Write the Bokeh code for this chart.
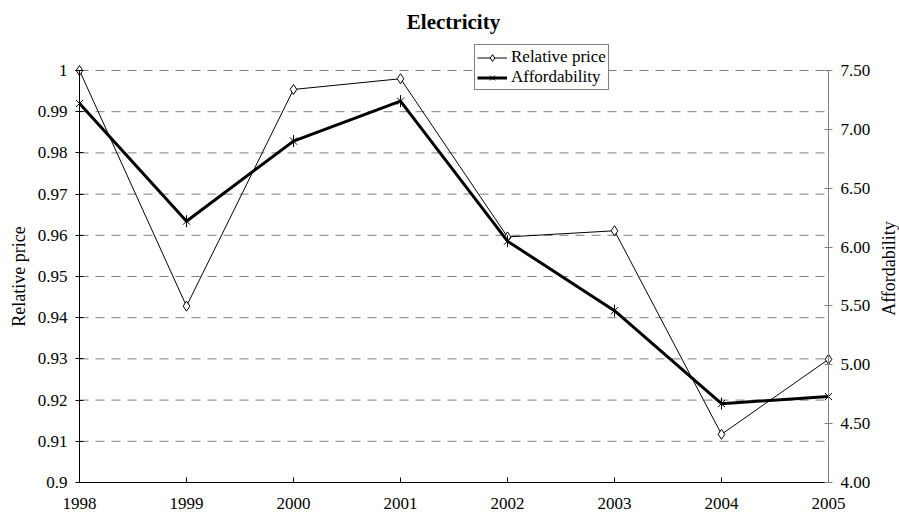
import math
from bokeh.plotting import figure
from bokeh.models import (Range1d, LinearAxis, FixedTicker, Legend, LegendItem,
                          NumeralTickFormatter, Label)
from bokeh.embed import file_html
from bokeh.resources import INLINE

years = [1998, 1999, 2000, 2001, 2002, 2003, 2004, 2005]
relative_price = [1.0, 0.9428, 0.9954, 0.998, 0.9596, 0.9611, 0.9117, 0.9299]
affordability = [7.22, 6.22, 6.90, 7.24, 6.05, 5.46, 4.67, 4.73]
left_ticks = [0.9, 0.91, 0.92, 0.93, 0.94, 0.95, 0.96, 0.97, 0.98, 0.99, 1.0]
right_ticks = [4.0, 4.5, 5.0, 5.5, 6.0, 6.5, 7.0, 7.5]

FONT = "Liberation Serif"

# plot area: x 79..828 (1998..2005), y 70..482 (data span);
# the frame covers the whole page (below a 10px top border) so pinned axes are not clipped
TOP_EXTRA = 60 / 412.0
BOTTOM_EXTRA = 38 / 412.0
LEFT_EXTRA = 79 / 749.0
RIGHT_EXTRA = 71 / 749.0
span = years[-1] - years[0]
p = figure(width=899, height=520, output_backend="svg", toolbar_location=None,
           x_range=Range1d(years[0] - span * LEFT_EXTRA, years[-1] + span * RIGHT_EXTRA),
           y_range=Range1d(0.9 - 0.1 * BOTTOM_EXTRA, 1.0 + 0.1 * TOP_EXTRA),
           min_border_left=0, min_border_right=0, min_border_top=10, min_border_bottom=0)
p.frame_width = 899
p.frame_height = 510
p.outline_line_color = None
p.background_fill_color = "white"
p.border_fill_color = "white"

p.extra_y_ranges = {"aff": Range1d(4.0 - 3.5 * BOTTOM_EXTRA, 7.5 + 3.5 * TOP_EXTRA)}

# title
title_label = Label(x=453, y=499, x_units="screen", y_units="screen", text="Electricity",
                    text_align="center", text_baseline="middle", text_font=FONT,
                    text_font_size="21px", text_font_style="bold", text_color="black")
p.add_layout(title_label, "center")

# x axis, pinned at the bottom of the value range
xa = p.xaxis[0]
xa.fixed_location = left_ticks[0]
xa.ticker = FixedTicker(ticks=years)
xa.bounds = (years[0], years[-1])
xa.major_label_text_font = FONT
xa.major_label_text_font_size = "17px"
xa.major_label_text_color = "black"
xa.major_tick_in = 5
xa.major_tick_out = 0
xa.minor_tick_line_color = None
xa.axis_line_color = "black"
xa.major_tick_line_color = "black"
xa.major_label_standoff = 15

# left axis, pinned at the first year
ya = p.yaxis[0]
ya.fixed_location = years[0]
ya.ticker = FixedTicker(ticks=left_ticks)
ya.bounds = (0.9, 1.0)
ya.major_label_overrides = {t: ("1" if t == 1.0 else ("0.9" if abs(t - 0.9) < 1e-9 else f"{t:.2f}")) for t in left_ticks}
ya.major_label_text_font = FONT
ya.major_label_text_font_size = "17px"
ya.major_label_text_color = "black"
ya.major_tick_in = 4
ya.major_tick_out = 4
ya.minor_tick_line_color = None
ya.axis_line_color = "black"
ya.major_tick_line_color = "black"
ya.axis_label = "Relative price"
ya.axis_label_text_font = FONT
ya.axis_label_text_font_size = "18px"
ya.axis_label_text_font_style = "normal"
ya.axis_label_text_color = "black"
ya.axis_label_standoff = 6
ya.major_label_standoff = 8

# right axis, pinned at the last year
ra = LinearAxis(y_range_name="aff", ticker=FixedTicker(ticks=right_ticks),
                formatter=NumeralTickFormatter(format="0.00"), bounds=(4.0, 7.5),
                fixed_location=years[-1])
ra.major_label_text_font = FONT
ra.major_label_text_font_size = "17px"
ra.major_label_text_color = "black"
ra.major_tick_in = 4
ra.major_tick_out = 4
ra.minor_tick_line_color = None
ra.axis_line_color = "#808080"
ra.major_tick_line_color = "#808080"
ra.major_label_standoff = 8
p.add_layout(ra, "right")

# right axis title, reading bottom-to-top
aff_label = Label(x=888, y=252, x_units="screen", y_units="screen", text="Affordability",
                  angle=math.pi / 2, text_align="center", text_baseline="middle",
                  text_font=FONT, text_font_size="18px", text_color="black")
p.add_layout(aff_label, "center")

# horizontal dashed grid between the two axes
p.xgrid.grid_line_color = None
p.ygrid.grid_line_color = None
grid_ticks = left_ticks[1:]
p.multi_line(xs=[[years[0], years[-1]] for _ in grid_ticks], ys=[[t, t] for t in grid_ticks],
             line_color="#808080", line_dash="9 7", line_width=1)

# series
l1 = p.line(years, relative_price, line_color="black", line_width=1)
s1 = p.scatter(years, relative_price, marker="diamond", size=10, fill_color="white",
               line_color="black", line_width=1)
l2 = p.line(years, affordability, y_range_name="aff", line_color="black", line_width=3)
s2 = p.scatter(years, affordability, y_range_name="aff", marker="x", size=10,
               line_color="black", line_width=1)
s2b = p.scatter(years, affordability, y_range_name="aff", marker="dash", angle=math.pi / 2,
                size=12, line_color="black", line_width=1)

legend = Legend(items=[LegendItem(label="Relative price", renderers=[l1, s1]),
                       LegendItem(label="Affordability", renderers=[l2, s2, s2b])],
                location=(474, 430))
legend.label_text_font = FONT
legend.label_text_font_size = "17px"
legend.label_text_color = "black"
legend.border_line_color = "black"
legend.border_line_width = 1
legend.background_fill_color = "white"
legend.background_fill_alpha = 1
legend.padding = 2
legend.spacing = 0
legend.margin = 0
legend.glyph_width = 30
legend.glyph_height = 17
legend.label_height = 17
legend.label_standoff = 4
legend.label_text_line_height = 1.0
p.add_layout(legend, "center")

open("out.html", "w").write(file_html(p, INLINE))
